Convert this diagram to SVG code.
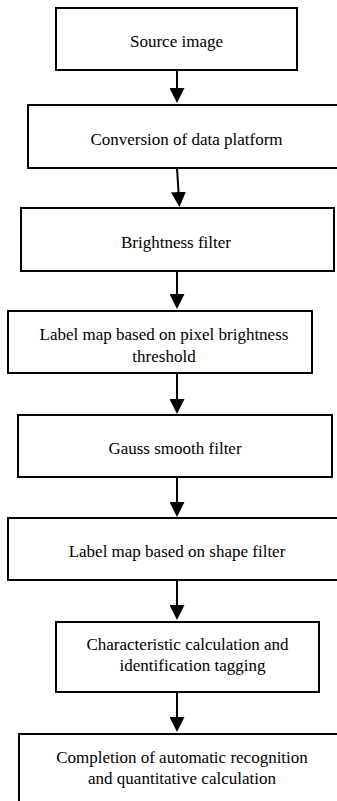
<svg xmlns="http://www.w3.org/2000/svg" width="337" height="801" viewBox="0 0 337 801">
<style>
.box{fill:#fff;stroke:#000;stroke-width:2}
.t{font-family:'Liberation Serif','Times New Roman',Times,'DejaVu Serif',serif;font-size:17px;fill:#000;text-anchor:middle}
.c{stroke:#000;stroke-width:2;fill:none;marker-end:url(#ah)}
</style>
<defs>
<marker id="ah" viewBox="0 0 15 15" refX="0" refY="7.5" markerWidth="15" markerHeight="15" markerUnits="userSpaceOnUse" orient="auto">
<path d="M0,0 L15,7.5 L0,15 z" fill="#000"/>
</marker>
</defs>
<rect width="337" height="801" fill="#fff"/>
<g id="connectors">
<line class="c" x1="177" y1="70" x2="177" y2="88"/>
<line class="c" x1="177" y1="168" x2="178.5" y2="192"/>
<line class="c" x1="177" y1="271" x2="177" y2="294"/>
<line class="c" x1="177" y1="373" x2="177" y2="399"/>
<line class="c" x1="177" y1="477" x2="177" y2="502"/>
<line class="c" x1="177" y1="580" x2="177" y2="605"/>
<line class="c" x1="177" y1="692" x2="177" y2="717"/>
</g>
<g id="n1"><rect class="box" x="56" y="8" width="241" height="62"/><text class="t" font-family="Liberation Serif, serif" x="176.5" y="47">Source image</text></g>
<g id="n2"><rect class="box" x="28" y="105" width="320" height="63"/><text class="t" x="186.5" y="145">Conversion of data platform</text></g>
<g id="n3"><rect class="box" x="21" y="208" width="313" height="63"/><text class="t" x="176" y="248">Brightness filter</text></g>
<g id="n4"><rect class="box" x="8" y="311" width="304" height="62"/><text class="t" x="164" y="340">Label map based on pixel brightness</text><text class="t" x="164" y="362">threshold</text></g>
<g id="n5"><rect class="box" x="18" y="415" width="314" height="62"/><text class="t" x="175" y="454">Gauss smooth filter</text></g>
<g id="n6"><rect class="box" x="8" y="518" width="340" height="62"/><text class="t" x="177" y="557">Label map based on shape filter</text></g>
<g id="n7"><rect class="box" x="56" y="622" width="263" height="70"/><text class="t" x="187.5" y="650">Characteristic calculation and</text><text class="t" x="192.5" y="671">identification tagging</text></g>
<g id="n8"><rect class="box" x="19" y="734" width="330" height="80"/><text class="t" x="182" y="763">Completion of automatic recognition</text><text class="t" x="182" y="784">and quantitative calculation</text></g>
</svg>
